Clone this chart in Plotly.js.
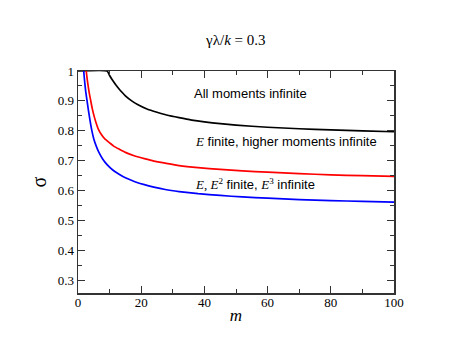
<!DOCTYPE html>
<html>
<head>
<meta charset="utf-8">
<script src="https://cdn.plot.ly/plotly-3.0.1.min.js"></script>
<style>html,body{margin:0;padding:0;background:#fff;}#chart{width:457px;height:353px;}</style>
</head>
<body>
<div id="chart"></div>
<script>
// All moments infinite
var mBlack = [0, 9.2, 10, 11, 12, 13, 14, 15, 17, 19, 22, 25, 28, 32, 36, 40, 45, 50, 60, 70, 80, 90, 100];
var sBlack = [1.0, 1.0, 0.985, 0.968, 0.953, 0.940, 0.928, 0.917, 0.900, 0.887, 0.872, 0.862, 0.853, 0.844, 0.836, 0.830, 0.824, 0.819, 0.812, 0.807, 0.803, 0.800, 0.797];
// E finite, higher moments infinite
var mRed = [2.6, 3.0, 3.5, 3.9, 4.5, 5.2, 6.0, 6.5, 7.5, 8.5, 10, 11.3, 13, 15, 18, 21, 24, 27.6, 32, 38, 45, 52, 60, 70, 80, 90, 100];
var sRed = [1.0, 0.965, 0.93, 0.908, 0.875, 0.845, 0.818, 0.804, 0.786, 0.773, 0.760, 0.749, 0.739, 0.728, 0.716, 0.707, 0.699, 0.692, 0.684, 0.677, 0.671, 0.666, 0.662, 0.657, 0.653, 0.650, 0.648];
// E, E^2 finite, E^3 infinite
var mBlue = [1.8, 2.1, 2.4, 2.8, 3.3, 3.8, 4.4, 5.0, 5.8, 6.7, 7.8, 9.2, 11, 13, 15, 18, 21, 24, 27.6, 32, 38, 45, 52, 60, 70, 80, 90, 100];
var sBlue = [1.0, 0.965, 0.935, 0.905, 0.868, 0.835, 0.800, 0.773, 0.748, 0.726, 0.706, 0.687, 0.669, 0.655, 0.643, 0.630, 0.620, 0.612, 0.604, 0.597, 0.590, 0.584, 0.579, 0.575, 0.570, 0.567, 0.564, 0.562];

var serif = "Liberation Serif";
var sans = "Liberation Sans";

function tr(x, y, c) {
  return {x: x, y: y, type: 'scatter', mode: 'lines',
    line: {color: c, width: 1.7, shape: 'spline', smoothing: 0.5},
    hoverinfo: 'skip', showlegend: false};
}
var data = [tr(mBlack, sBlack, '#000000'), tr(mRed, sRed, '#ff0000'), tr(mBlue, sBlue, '#0000ff')];

var axisCommon = {
  showgrid: false, zeroline: false, showline: true, linecolor: '#333', linewidth: 1.5,
  mirror: 'allticks', ticks: 'inside', ticklen: 7, tickwidth: 1, tickcolor: '#333',
  tickfont: {family: serif, size: 13, color: '#000'}
};

var layout = {
  width: 457, height: 353,
  margin: {l: 78, r: 63, t: 71, b: 60, pad: 0},
  paper_bgcolor: '#fff', plot_bgcolor: '#fff',
  font: {family: serif},
  title: {text: 'γλ/<i>k</i> = 0.3', font: {family: serif, size: 15, color: '#000'},
    x: 0.516, xanchor: 'center', y: 0.887, yanchor: 'middle'},
  xaxis: Object.assign({}, axisCommon, {
    range: [0, 100], dtick: 20, tick0: 0, ticklabelstandoff: -3,
    minor: {dtick: 10, ticks: 'inside', ticklen: 4, tickcolor: '#333'},
    title: {text: '<i>m</i>', font: {family: serif, size: 17, color: '#000'}, standoff: 0}
  }),
  yaxis: Object.assign({}, axisCommon, {
    range: [0.258, 1], dtick: 0.1, tick0: 0,
    minor: {dtick: 0.05, ticks: 'inside', ticklen: 4, tickcolor: '#333'},
    title: {text: 'σ', font: {family: serif, size: 20, color: '#000'}, standoff: 5}
  }),
  annotations: [
    {xref: 'x', yref: 'y', x: 36, y: 0.9255, xanchor: 'left', yanchor: 'middle', showarrow: false,
      text: 'All moments infinite', font: {family: sans, size: 13, color: '#000'}},
    {xref: 'x', yref: 'y', x: 36.3, y: 0.765, xanchor: 'left', yanchor: 'middle', showarrow: false,
      text: '<span style="font-family:Liberation Serif"><i>E</i></span> finite, higher moments infinite',
      font: {family: sans, size: 13, color: '#000'}},
    {xref: 'x', yref: 'y', x: 36.3, y: 0.622, xanchor: 'left', yanchor: 'middle', showarrow: false,
      text: '<span style="font-family:Liberation Serif"><i>E</i>, <i>E</i><sup>2</sup></span> finite, <span style="font-family:Liberation Serif"><i>E</i><sup>3</sup></span> infinite',
      font: {family: sans, size: 13, color: '#000'}}
  ]
};

Plotly.newPlot('chart', data, layout, {staticPlot: true, displayModeBar: false});
</script>
</body>
</html>
